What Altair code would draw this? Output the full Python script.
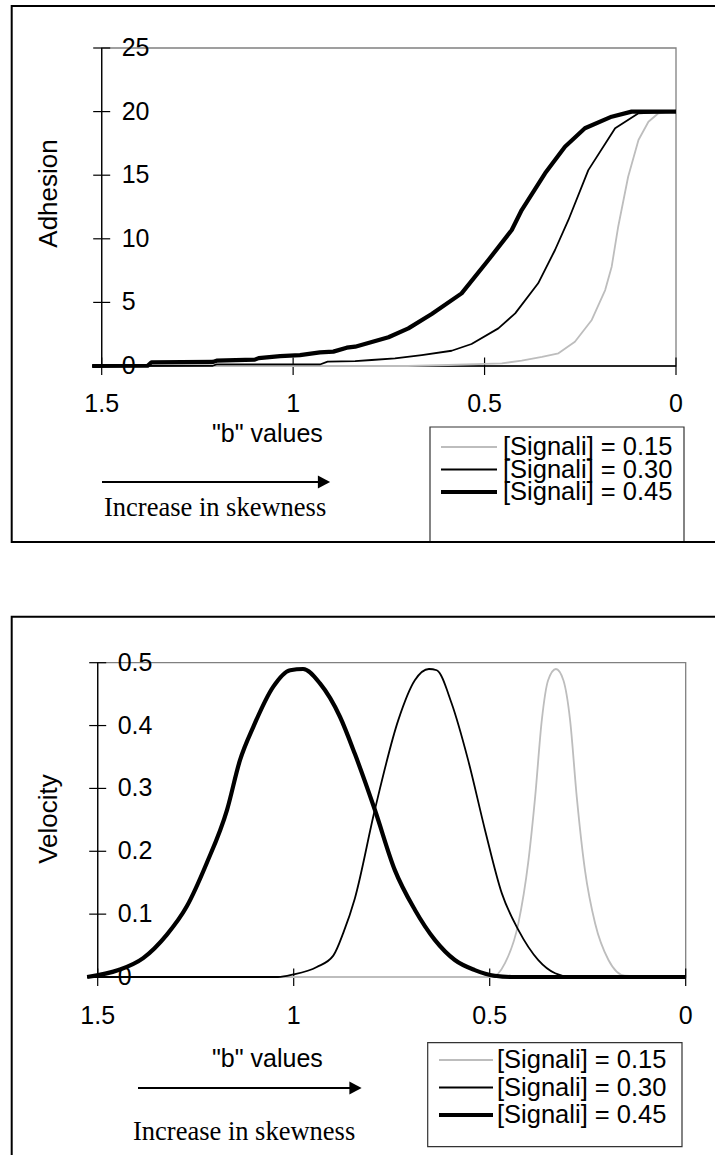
import altair as alt
import pandas as pd

SANS = "Liberation Sans, Arial, sans-serif"
SERIF = "Liberation Serif, Times New Roman, serif"

SERIES = ["[Signali] = 0.15", "[Signali] = 0.30", "[Signali] = 0.45"]
LINE_COLORS = ["#bdbdbd", "#000000", "#000000"]
LINE_WIDTHS = [1.8, 1.8, 4.2]
KEY_WIDTHS = [2.0, 1.8, 4.2]

# Adhesion against "b"
ADH_B_015 = [1.525, 0.70, 0.595, 0.455, 0.403, 0.35, 0.307, 0.264, 0.220, 0.185,
             0.168, 0.151, 0.125, 0.098, 0.072, 0.046, 0.0]
ADH_015 = [0, 0, 0.08, 0.21, 0.42, 0.72, 1.0, 1.91, 3.62, 5.97,
           7.81, 10.95, 14.88, 17.77, 19.2, 19.87, 20]
ADH_B_030 = [1.525, 1.21, 1.2, 0.93, 0.91, 0.838, 0.795, 0.734, 0.664, 0.586,
             0.534, 0.464, 0.420, 0.360, 0.316, 0.281, 0.229, 0.159, 0.098, 0.0]
ADH_030 = [0, 0.02, 0.12, 0.12, 0.34, 0.38, 0.47, 0.6, 0.86, 1.2,
           1.73, 2.96, 4.14, 6.5, 9.12, 11.48, 15.4, 18.69, 19.87, 20]
ADH_B_045 = [1.525, 1.38, 1.37, 1.21, 1.2, 1.1, 1.09, 1.034, 0.982, 0.93,
             0.895, 0.86, 0.838, 0.751, 0.699, 0.638, 0.560, 0.490, 0.429, 0.403,
             0.342, 0.290, 0.238, 0.168, 0.116, 0.0]
ADH_045 = [0, 0.02, 0.29, 0.32, 0.42, 0.5, 0.62, 0.78, 0.86, 1.07,
           1.13, 1.44, 1.52, 2.26, 2.96, 4.09, 5.71, 8.33, 10.69, 12.26,
           15.15, 17.24, 18.69, 19.6, 20, 20]

# Velocity against "b"
VEL_B_015 = [1.527, 0.495, 0.461, 0.427, 0.402, 0.384, 0.367, 0.351, 0.331, 0.312,
             0.295, 0.278, 0.257, 0.231, 0.197, 0.155, 0.0]
VEL_015 = [0, 0, 0.022, 0.085, 0.181, 0.287, 0.409, 0.472, 0.49, 0.472,
           0.409, 0.287, 0.170, 0.085, 0.027, 0.002, 0]
VEL_B_030 = [1.527, 1.04, 1.001, 0.941, 0.899, 0.873, 0.844, 0.793, 0.733, 0.691,
             0.655, 0.635, 0.597, 0.555, 0.512, 0.469, 0.427, 0.376, 0.333, 0.291, 0.0]
VEL_030 = [0, 0, 0.004, 0.016, 0.034, 0.071, 0.125, 0.266, 0.409, 0.472,
           0.49, 0.488, 0.435, 0.345, 0.234, 0.133, 0.075, 0.027, 0.006, 0.0, 0]
VEL_B_045 = [1.527, 1.447, 1.384, 1.324, 1.273, 1.222, 1.170, 1.137, 1.103, 1.052,
             1.009, 0.976, 0.933, 0.882, 0.844, 0.793, 0.742, 0.691, 0.640, 0.589,
             0.538, 0.487, 0.444, 0.0]
VEL_045 = [0, 0.011, 0.030, 0.067, 0.112, 0.181, 0.266, 0.345, 0.398, 0.462,
           0.488, 0.49, 0.467, 0.414, 0.355, 0.266, 0.170, 0.107, 0.059, 0.027,
           0.011, 0.002, 0, 0]

X_TICKS = [1.5, 1.0, 0.5, 0.0]
X_TICK_LABELS = ["1.5", "1", "0.5", "0"]
ADH_TICKS = [0, 5, 10, 15, 20, 25]
ADH_TICK_LABELS = ["0", "5", "10", "15", "20", "25"]
VEL_TICKS = [0, 0.1, 0.2, 0.3, 0.4, 0.5]
VEL_TICK_LABELS = ["0", "0.1", "0.2", "0.3", "0.4", "0.5"]

ONE = pd.DataFrame({"k": [0]})


def long_table(xs_list, ys_list):
    rows = []
    for name, xs, ys in zip(SERIES, xs_list, ys_list):
        for i, (b, v) in enumerate(zip(xs, ys)):
            rows.append({"series": name, "i": i, "b": b, "v": v})
    return pd.DataFrame(rows)


def panel(df, ymax, yticks, ylabels, x_range, y_range, interp, xlab_dy):
    xs = alt.Scale(domain=[1.5, 0], range=x_range, nice=False, zero=False)
    ys = alt.Scale(domain=[0, ymax], range=y_range, nice=False, zero=False)
    xd = lambda v: alt.XDatum(v, type="quantitative", scale=xs, axis=None)
    yd = lambda v: alt.YDatum(v, type="quantitative", scale=ys, axis=None)

    frame = alt.Chart(ONE).mark_rect(fillOpacity=0, stroke="#808080", strokeWidth=1.3).encode(
        x=xd(1.5), x2=alt.X2Datum(0), y=yd(0), y2=alt.Y2Datum(ymax))
    y_axis = alt.Chart(ONE).mark_rule(color="black", strokeWidth=1.3).encode(
        x=xd(1.5), y=yd(0), y2=alt.Y2Datum(ymax))
    x_axis = alt.Chart(ONE).mark_rule(color="black", strokeWidth=1.3).encode(
        y=yd(0), x=xd(1.5), x2=alt.X2Datum(0))

    ydf = pd.DataFrame({"v": yticks, "label": ylabels})
    xdf = pd.DataFrame({"v": X_TICKS, "label": X_TICK_LABELS})
    y_ticks = alt.Chart(ydf).mark_rule(color="black", strokeWidth=1.2, xOffset=-8.5, x2Offset=8.5).encode(
        x=xd(1.5), x2=alt.X2Datum(1.5), y=alt.Y("v:Q", scale=ys, axis=None))
    y_labels = alt.Chart(ydf).mark_text(align="left", baseline="middle", dx=20, font=SANS,
                                        fontSize=25, color="black").encode(
        x=xd(1.5), y=alt.Y("v:Q", scale=ys, axis=None), text="label:N")
    x_ticks = alt.Chart(xdf).mark_rule(color="black", strokeWidth=1.2, yOffset=-8.5, y2Offset=9).encode(
        y=yd(0), y2=alt.Y2Datum(0), x=alt.X("v:Q", scale=xs, axis=None))
    x_labels = alt.Chart(xdf).mark_text(align="center", baseline="alphabetic", dy=xlab_dy, font=SANS,
                                        fontSize=25, color="black").encode(
        y=yd(0), x=alt.X("v:Q", scale=xs, axis=None), text="label:N")

    # one line layer per series, drawn in order so the heaviest sits on top
    lines = []
    for name, colour, width in zip(SERIES, LINE_COLORS, LINE_WIDTHS):
        lines.append(
            alt.Chart(df).transform_filter(alt.datum.series == name)
            .mark_line(interpolate=interp, strokeJoin="round", strokeCap="butt",
                       color=colour, strokeWidth=width)
            .encode(
                x=alt.X("b:Q", scale=xs, axis=None),
                y=alt.Y("v:Q", scale=ys, axis=None),
                order=alt.Order("i:Q"),
            )
        )
    return alt.layer(frame, y_axis, x_axis, y_ticks, y_labels, x_ticks, x_labels, *lines)


def legend(box, rows, line_x, text_x):
    ldf = pd.DataFrame({"series": SERIES})
    ly = alt.Y("series:N", scale=alt.Scale(type="point", domain=SERIES, range=rows, padding=0), axis=None)
    frame = alt.Chart(ONE).mark_rect(fill="white", stroke="#333333", strokeWidth=1.2).encode(
        x=alt.value(box[0]), x2=alt.value(box[1]), y=alt.value(box[2]), y2=alt.value(box[3]))
    keys = []
    for name, colour, width in zip(SERIES, LINE_COLORS, KEY_WIDTHS):
        keys.append(
            alt.Chart(ldf).transform_filter(alt.datum.series == name)
            .mark_rule(strokeCap="butt", color=colour, strokeWidth=width)
            .encode(x=alt.value(line_x[0]), x2=alt.value(line_x[1]), y=ly)
        )
    labels = alt.Chart(ldf).mark_text(align="left", baseline="middle", font=SANS, fontSize=25.5,
                                      color="black").encode(
        x=alt.value(text_x), y=ly, text="series:N")
    return alt.layer(frame, *keys, labels)


def decor(box, ytitle, ytitle_xy, xtitle_xy, arrow, note_xy):
    outer = alt.Chart(ONE).mark_rect(fillOpacity=0, stroke="black", strokeWidth=2).encode(
        x=alt.value(box[0]), x2=alt.value(box[1]), y=alt.value(box[2]), y2=alt.value(box[3]))
    ttl = alt.Chart(ONE).mark_text(text=ytitle, angle=270, align="center", baseline="alphabetic",
                                   font=SANS, fontSize=26, color="black").encode(
        x=alt.value(ytitle_xy[0]), y=alt.value(ytitle_xy[1]))
    xttl = alt.Chart(ONE).mark_text(text='"b" values', align="left", baseline="alphabetic",
                                    font=SANS, fontSize=25, color="black").encode(
        x=alt.value(xtitle_xy[0]), y=alt.value(xtitle_xy[1]))
    shaft = alt.Chart(ONE).mark_rule(color="black", strokeWidth=2).encode(
        x=alt.value(arrow[0]), x2=alt.value(arrow[1]), y=alt.value(arrow[3]))
    head = alt.Chart(ONE).mark_point(shape="M-1,-1.05L1,0L-1,1.05Z", filled=True, fill="black",
                                     opacity=1, size=150, strokeWidth=0).encode(
        x=alt.value(arrow[2]), y=alt.value(arrow[3]))
    note = alt.Chart(ONE).mark_text(text="Increase in skewness", align="left", baseline="alphabetic",
                                    font=SERIF, fontSize=26.5, color="black").encode(
        x=alt.value(note_xy[0]), y=alt.value(note_xy[1]))
    return alt.layer(outer, ttl, xttl, shaft, head, note)


adh = long_table([ADH_B_015, ADH_B_030, ADH_B_045], [ADH_015, ADH_030, ADH_045])
vel = long_table([VEL_B_015, VEL_B_030, VEL_B_045], [VEL_015, VEL_030, VEL_045])

top_plot = panel(adh, 25, ADH_TICKS, ADH_TICK_LABELS, [101.7, 676], [366, 48], "linear", 46)
bottom_plot = panel(vel, 0.5, VEL_TICKS, VEL_TICK_LABELS, [97.7, 685.7], [977, 662.7], "monotone", 47)

top_legend = legend([430, 684, 427, 542], [447, 492], [441, 497], 503)
bottom_legend = legend([427.7, 682, 1042.7, 1146.7], [1060, 1115], [439, 493], 497)

top_decor = decor([11.7, 716, 6, 542], "Adhesion", (57, 193.5), (212, 442), (102, 318, 324, 482), (104, 516))
bottom_decor = decor([11.7, 716, 616.7, 1158], "Velocity", (56.5, 819), (212, 1067), (138, 350, 355.5, 1088), (133, 1140))

# the top legend is drawn before the panel outline so the outline stays on top
chart = alt.layer(
    top_plot, top_legend, top_decor, bottom_decor, bottom_plot, bottom_legend
).resolve_scale(
    x="independent", y="independent"
).properties(
    width=715, height=1155, padding=0, background="white",
    autosize=alt.AutoSizeParams(type="none"),
).configure_view(strokeWidth=0)

chart.save("out.html", embed_options={"renderer": "svg", "actions": False})
